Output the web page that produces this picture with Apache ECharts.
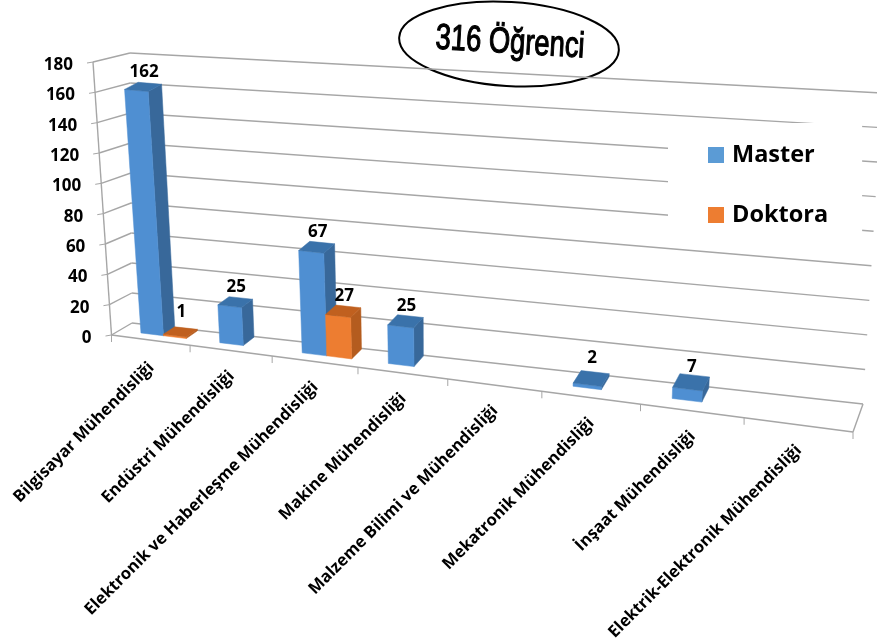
<!DOCTYPE html>
<html><head><meta charset="utf-8">
<style>html,body{margin:0;padding:0;background:#fff}#c{width:877px;height:641px}</style>
<script src="https://cdn.jsdelivr.net/npm/echarts@6/dist/echarts.min.js"></script>
</head><body><div id="c"></div>
<script>
var categories = ["Bilgisayar Mühendisliği","Endüstri Mühendisliği","Elektronik ve Haberleşme Mühendisliği","Makine Mühendisliği","Malzeme Bilimi ve Mühendisliği","Mekatronik Mühendisliği","İnşaat Mühendisliği","Elektrik-Elektronik Mühendisliği"];
var master = [162,25,67,25,null,2,7,null];
var doktora = [1,null,27,null,null,null,null,null];
var yTicks = [0,20,40,60,80,100,120,140,160,180];

// projection of the chart box
var FLB=[111.5,335], FRB=[853,432], BRB=[863,404], BLB=[132,323];
var FLT=[93,62], BLT=[130,53], BRT=[882,93];
var PERSPECTIVE=1.205;
function S(u){return u/(u+PERSPECTIVE*(1-u));}
function mix(a,b,k){return [a[0]+(b[0]-a[0])*k,a[1]+(b[1]-a[1])*k];}
function floorPt(u,d){var s=S(u);return mix(mix(FLB,FRB,s),mix(BLB,BRB,s),d);}
function wallPt(t,u){return mix(mix(BLB,BRB,S(u)),mix(BLT,BRT,S(u)),t);}
function sidePt(t){return mix(FLB,FLT,t);}
// bars rise with their own lean and height
function barPt(u,d,t){
  var p=floorPt(u,d), s=S(u);
  return [p[0]-1-2.5*s+t*(-21+40*s+4*d), p[1]-t*(270+20*s)];
}
function norm(params,pt){var c=params.coordSys;return [(pt[0]-c.x)/c.width,(c.y+c.height-pt[1])/c.height];}

var gridColor='#a6a6a6';
function lineEl(a,b,w){return {type:'line',shape:{x1:a[0],y1:a[1],x2:b[0],y2:b[1]},style:{stroke:gridColor,lineWidth:w||1.4}};}

function renderWall(params,api){
  var v=api.value(0), t=norm(params,api.coord([0,v]))[1];
  var fl=sidePt(t), bl=wallPt(t,0), br=wallPt(t,1);
  var ch=[lineEl(fl,bl),lineEl(bl,br),lineEl(fl,[fl[0]-6,fl[1]+1],1)];
  ch.push({type:'text',style:{text:String(v),x:fl[0]-20,y:fl[1]+3,align:'right',verticalAlign:'middle',font:'bold 17px "Open Sans"',fill:'#000'}});
  if(params.dataIndex===0){
    ch.push(lineEl(sidePt(0),sidePt(1)));
    ch.push(lineEl(floorPt(0,0),floorPt(1,0)));
    ch.push(lineEl(floorPt(1,0),floorPt(1,1)));
  }
  return {type:'group',children:ch};
}
function renderCat(params,api){
  var i=api.value(0), c=api.coord([i,0]), bw=api.size([1,0])[0];
  var n=norm(params,c), half=bw/2/params.coordSys.width;
  var a=floorPt(n[0]+half,0), m=floorPt(n[0],0), z=floorPt(0,0);
  var ch=[
    {type:'line',shape:{x1:a[0],y1:a[1],x2:a[0],y2:a[1]+7},style:{stroke:gridColor,lineWidth:1}},
    {type:'text',x:m[0]+1,y:m[1]+(i===0?25:23),rotation:Math.PI/4,style:{text:categories[i],x:0,y:0,align:'right',verticalAlign:'middle',font:'bold 16.5px "Open Sans"',fill:'#000'}}
  ];
  if(i===0)ch.push({type:'line',shape:{x1:z[0],y1:z[1],x2:z[0],y2:z[1]+7},style:{stroke:gridColor,lineWidth:1}});
  return {type:'group',children:ch};
}
function barRenderer(s0,s1,front,side,top){
  return function(params,api){
    var val=api.value(1);
    if(val==null||isNaN(val))return;
    var i=api.value(0), c=api.coord([i,val]), bw=api.size([1,0])[0]/params.coordSys.width;
    var n=norm(params,c), t=n[1], left=n[0]-bw/2;
    var u0=left+s0*bw,u1=left+s1*bw,d0=0.4,d1=0.97;
    function poly(pts,col){return {type:'polygon',shape:{points:pts},style:{fill:col,stroke:col,lineWidth:0.5}};}
    var ftl=barPt(u0,d0,t),ftr=barPt(u1,d0,t),btl=barPt(u0,d1,t),btr=barPt(u1,d1,t);
    var fbl=barPt(u0,d0,0),fbr=barPt(u1,d0,0),bbr=barPt(u1,d1,0);
    var mid=[(ftl[0]+btr[0])/2,(ftl[1]+btr[1])/2];
    var lift=t<0.02?20:15;
    return {type:'group',children:[
      poly([ftr,btr,bbr,fbr],side),
      poly([ftl,ftr,fbr,fbl],front),
      poly([ftl,ftr,btr,btl],top),
      {type:'text',style:{text:String(val),x:mid[0]+1,y:mid[1]-lift,align:'center',verticalAlign:'middle',font:'bold 17px "Open Sans"',fill:'#000'}}
    ]};
  };
}
function pairs(arr){return arr.map(function(v,i){return [i,v];});}

var chart=echarts.init(document.getElementById('c'),null,{renderer:'canvas'});
chart.setOption({
  animation:false,
  backgroundColor:'#fff',
  grid:{left:100,right:100,top:100,bottom:100,show:false},
  xAxis:{type:'category',data:categories,show:false},
  yAxis:{type:'value',min:0,max:180,interval:20,show:false},
  legend:{
    data:['Master','Doktora'],orient:'vertical',left:668,top:123,
    padding:[20,34,13,40],itemWidth:16,itemHeight:16,itemGap:36,icon:'rect',z:10,
    backgroundColor:'#fff',selectedMode:false,
    textStyle:{fontFamily:'Open Sans',fontWeight:'bold',fontSize:23.5,color:'#000',padding:[0,0,0,3]}
  },
  graphic:[{
    type:'group',x:509,y:44,rotation:-0.06,z:20,children:[
      {type:'ellipse',shape:{cx:0,cy:0,rx:110,ry:42},style:{fill:'#fff',stroke:'#000',lineWidth:2}},
      {type:'text',x:1,y:-1,scaleX:0.76,style:{text:'316 Öğrenci',x:0,y:0,align:'center',verticalAlign:'middle',font:'36px "Liberation Sans"',fill:'#000',stroke:'#000',lineWidth:1.2}}
    ]
  }],
  series:[
    {type:'custom',name:'axis',coordinateSystem:'cartesian2d',clip:false,silent:true,z:1,data:yTicks.map(function(v){return [v];}),encode:{y:0},renderItem:renderWall},
    {type:'custom',name:'cats',coordinateSystem:'cartesian2d',clip:false,silent:true,z:1,data:categories.map(function(c,i){return [i,0];}),encode:{x:0,y:1},renderItem:renderCat},
    {type:'custom',name:'Master',coordinateSystem:'cartesian2d',clip:false,z:3,itemStyle:{color:'#5b9bd5'},data:pairs(master),encode:{x:0,y:1},renderItem:barRenderer(0.29,0.58,'#4f8fd2','#38689a','#3a72aa')},
    {type:'custom',name:'Doktora',coordinateSystem:'cartesian2d',clip:false,z:4,itemStyle:{color:'#ed7d31'},data:pairs(doktora),encode:{x:0,y:1},renderItem:barRenderer(0.58,0.87,'#ed7d31','#b45c1f','#c0601f')}
  ]
});
</script></body></html>
